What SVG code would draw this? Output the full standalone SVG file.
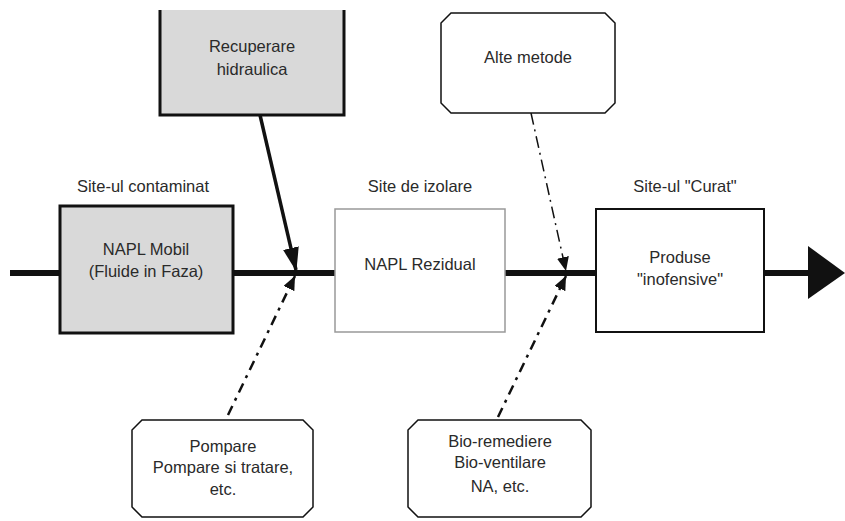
<svg xmlns="http://www.w3.org/2000/svg" width="845" height="521" viewBox="0 0 845 521">
<style>
text{font-family:"Liberation Sans",Arial,sans-serif;font-size:16.5px;fill:#2a2a2a;text-anchor:middle}
.grey{fill:#d9d9d9;stroke:#111;stroke-width:3}
.cham{fill:#fff;stroke:#111;stroke-width:1.5}
</style>
<defs>
<marker id="ah" markerUnits="userSpaceOnUse" markerWidth="24" markerHeight="32" refX="28" refY="10" viewBox="0 0 30 20" orient="auto">
<path d="M0,0 L30,10 L0,20 Z" fill="#111"/>
</marker>
<marker id="as" markerUnits="userSpaceOnUse" markerWidth="14" markerHeight="12" refX="14" refY="6" viewBox="0 0 14 12" orient="auto">
<path d="M0,0 L14,6 L0,12 Z" fill="#111"/>
</marker>
</defs>
<rect width="845" height="521" fill="#fff"/>
<g id="connectors">
<line x1="10" y1="273" x2="810" y2="273" stroke="#111" stroke-width="6"/>
<path d="M808,246 L845,273 L808,299 Z" fill="#111"/>
<line x1="260" y1="115" x2="296" y2="270" stroke="#111" stroke-width="3.5" marker-end="url(#ah)"/>
<path d="M531,113 Q548,190 566,271" fill="none" stroke="#111" stroke-width="1.5" stroke-dasharray="12 5 2 5" marker-end="url(#as)"/>
<line x1="228" y1="415" x2="295" y2="276" stroke="#111" stroke-width="2.5" stroke-dasharray="10 6 3 6" marker-end="url(#as)"/>
<line x1="498" y1="417" x2="566" y2="276" stroke="#111" stroke-width="2.5" stroke-dasharray="10 6 3 6" marker-end="url(#as)"/>
</g>
<g id="recuperare">
<rect x="160" y="10" width="184" height="105" fill="#d9d9d9"/>
<path d="M160,10 V115 H344 V10" fill="none" stroke="#111" stroke-width="3"/>
<text x="252" y="52">Recuperare</text>
<text x="252" y="75">hidraulica</text>
</g>
<g id="alte">
<path class="cham" d="M451,13 H605 L615,23 V103 L605,113 H451 L441,103 V23 Z"/>
<text x="528" y="63">Alte metode</text>
</g>
<g id="site-contaminat">
<text x="143" y="192">Site-ul contaminat</text>
</g>
<g id="napl-mobil">
<rect class="grey" x="60" y="206" width="173" height="127"/>
<text x="146" y="255">NAPL Mobil</text>
<text x="146" y="277">(Fluide in Faza)</text>
</g>
<g id="site-izolare">
<text x="420" y="192">Site de izolare</text>
</g>
<g id="napl-rezidual">
<rect x="335" y="209" width="170" height="123" fill="#fff" stroke="#999" stroke-width="1.5"/>
<text x="420" y="270">NAPL Rezidual</text>
</g>
<g id="site-curat">
<text x="685" y="192">Site-ul "Curat"</text>
</g>
<g id="produse">
<rect x="596" y="209" width="168" height="123" fill="#fff" stroke="#111" stroke-width="2"/>
<text x="680" y="263">Produse</text>
<text x="680" y="285">"inofensive"</text>
</g>
<g id="pompare">
<path class="cham" d="M142,420 H303 L313,430 V507 L303,517 H142 L132,507 V430 Z"/>
<text x="223" y="452">Pompare</text>
<text x="223" y="473">Pompare si tratare,</text>
<text x="223" y="495">etc.</text>
</g>
<g id="bio">
<path class="cham" d="M418,420 H581 L591,430 V507 L581,517 H418 L408,507 V430 Z"/>
<text x="500" y="447">Bio-remediere</text>
<text x="500" y="468">Bio-ventilare</text>
<text x="500" y="492">NA, etc.</text>
</g>
</svg>
